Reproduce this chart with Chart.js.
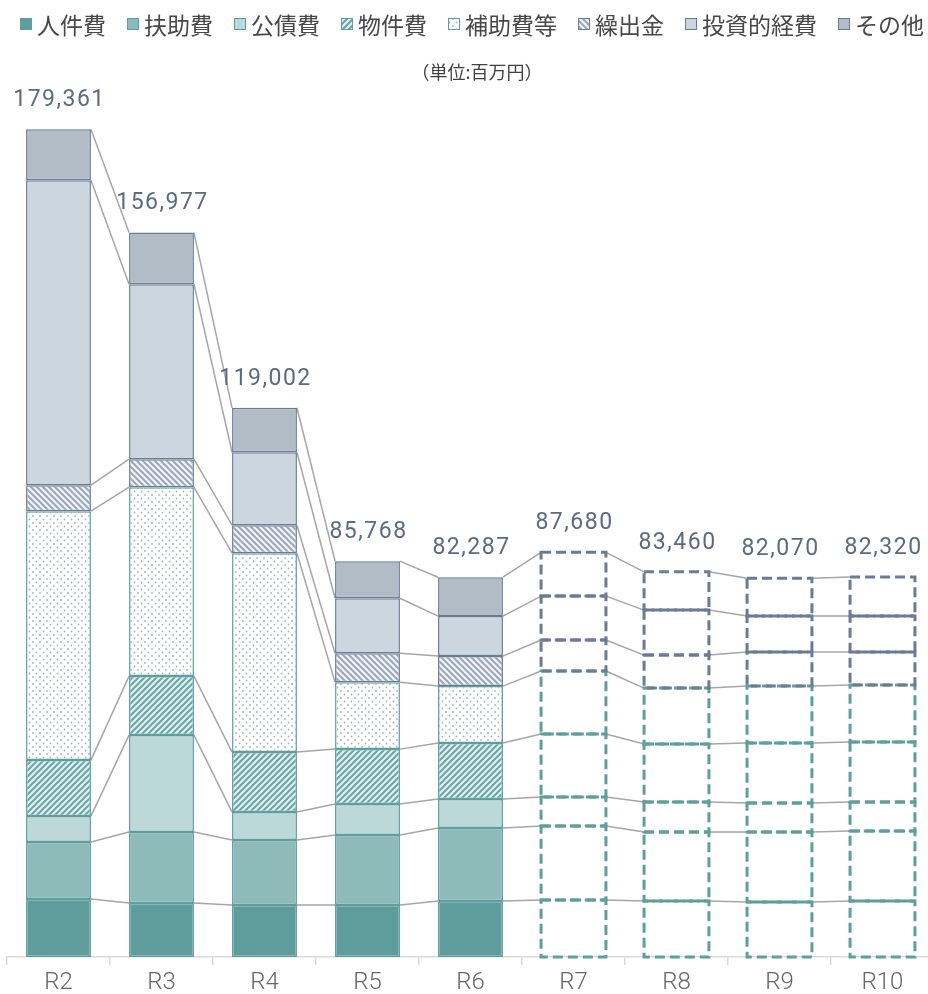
<!DOCTYPE html>
<html lang="ja">
<head>
    <meta charset="UTF-8">
    <title>歳出の推移</title>
    <script src="https://cdn.jsdelivr.net/npm/chart.js"></script>
    <style>
        html, body {
            margin: 0;
            padding: 0;
            background: #fff;
            overflow: hidden;
        }
        #chart {
            position: absolute;
            left: 0;
            top: 0;
        }
    </style>
</head>
<body>
    <canvas id="chart" width="935" height="994"></canvas>

    <script>
        // 年度 (R7 以降は計画値)
        const categories = ['R2', 'R3', 'R4', 'R5', 'R6', 'R7', 'R8', 'R9', 'R10'];
        const planStart = 5;

        // 単位: 百万円
        const jinkenhi   = [12560, 11700, 11260, 11260, 12130, 12350, 12130, 11910, 12130];
        const fujohi     = [12350, 15380, 14080, 15160, 15810, 16030, 14950, 15160, 15160];
        const kosaihi    = [5630, 21010, 6065, 6715, 6280, 6280, 6500, 6280, 6280];
        const bukkenhi   = [12130, 12780, 13000, 11910, 12130, 13650, 12560, 13000, 13000];
        const hojohi     = [53940, 40940, 43100, 14510, 12350, 13650, 12130, 12350, 12350];
        const kuridashi  = [5630, 6065, 6065, 6280, 6500, 6715, 7150, 7365, 7150];
        const toshi      = [66070, 37910, 15810, 11910, 8665, 9530, 9750, 7800, 7800];
        const sonota     = [11051, 11192, 9622, 8023, 8422, 9475, 8290, 8205, 8450];

        const seriesNames = ['人件費', '扶助費', '公債費', '物件費', '補助費等', '繰出金', '投資的経費', 'その他'];
        const seriesData = [jinkenhi, fujohi, kosaihi, bukkenhi, hojohi, kuridashi, toshi, sonota];

        const TEAL = '#5f9e9e';
        const SLATE = '#6a7c95';

        // patterns
        function hatch(bg, fg, dir) {
            const c = document.createElement('canvas');
            c.width = c.height = 6;
            const g = c.getContext('2d');
            g.fillStyle = bg;
            g.fillRect(0, 0, 6, 6);
            g.strokeStyle = fg;
            g.lineWidth = 2;
            g.beginPath();
            if (dir > 0) {
                g.moveTo(-1, 7); g.lineTo(7, -1);
                g.moveTo(-1, 1); g.lineTo(1, -1);
                g.moveTo(5, 7); g.lineTo(7, 5);
            } else {
                g.moveTo(-1, -1); g.lineTo(7, 7);
                g.moveTo(5, -1); g.lineTo(7, 1);
                g.moveTo(-1, 5); g.lineTo(1, 7);
            }
            g.stroke();
            return g.createPattern(c, 'repeat');
        }

        function dots() {
            const c = document.createElement('canvas');
            c.width = c.height = 7;
            const g = c.getContext('2d');
            g.fillStyle = '#fff';
            g.fillRect(0, 0, 7, 7);
            g.fillStyle = '#a9b2b2';
            g.beginPath();
            g.arc(1.5, 1.5, 0.9, 0, Math.PI * 2);
            g.arc(5, 5, 0.9, 0, Math.PI * 2);
            g.fill();
            return g.createPattern(c, 'repeat');
        }

        const fills = [
            '#5f9c9c',
            '#8fbaba',
            '#bcd8d8',
            hatch('#e2efef', '#6aa6a6', 1),
            dots(),
            hatch('#f1f3f6', '#9ba7b8', -1),
            '#cbd6df',
            '#b1bcc6'
        ];
        const borders = [TEAL, TEAL, TEAL, TEAL, TEAL, SLATE, SLATE, SLATE];

        const datasets = seriesNames.map((name, s) => ({
            label: name,
            data: seriesData[s],
            backgroundColor: c => (c.dataIndex >= planStart ? 'rgba(0,0,0,0)' : fills[s]),
            borderColor: borders[s],
            borderWidth: c => (c.dataIndex >= planStart ? 0 : 1.5),
            borderSkipped: false,
            barPercentage: 0.63,
            categoryPercentage: 1
        }));

        // lines between bars
        const seriesLines = {
            id: 'seriesLines',
            beforeDatasetsDraw(chart) {
                const ctx = chart.ctx;
                ctx.save();
                ctx.strokeStyle = '#a6a6a6';
                ctx.lineWidth = 1.5;
                chart.data.datasets.forEach((ds, s) => {
                    const els = chart.getDatasetMeta(s).data;
                    for (let i = 0; i < els.length - 1; i++) {
                        const a = els[i], b = els[i + 1];
                        ctx.beginPath();
                        ctx.moveTo(a.x + a.width / 2, a.y);
                        ctx.lineTo(b.x - b.width / 2, b.y);
                        ctx.stroke();
                    }
                });
                ctx.restore();
            }
        };

        // dashed boxes for plan years, totals
        const planAndTotals = {
            id: 'planAndTotals',
            afterDatasetsDraw(chart) {
                const ctx = chart.ctx;
                ctx.save();
                ctx.lineWidth = 3;
                ctx.setLineDash([10, 5]);
                chart.data.datasets.forEach((ds, s) => {
                    const els = chart.getDatasetMeta(s).data;
                    ctx.strokeStyle = borders[s];
                    for (let i = planStart; i < els.length; i++) {
                        const el = els[i];
                        ctx.strokeRect(el.x - el.width / 2, el.y, el.width, el.base - el.y);
                    }
                });
                ctx.setLineDash([]);

                const last = chart.getDatasetMeta(seriesData.length - 1).data;
                ctx.fillStyle = '#5b6b82';
                ctx.font = '23px Roboto';
                ctx.letterSpacing = '1.5px';
                ctx.textAlign = 'center';
                ctx.textBaseline = 'middle';
                categories.forEach((c, i) => {
                    const total = seriesData.reduce((sum, arr) => sum + arr[i], 0);
                    ctx.fillText(total.toLocaleString('en-US'), last[i].x + 1, last[i].y - 29);
                });
                ctx.restore();
            }
        };

        // legend + unit
        const topLegend = {
            id: 'topLegend',
            afterDraw(chart) {
                const ctx = chart.ctx;
                ctx.save();
                ctx.font = '23px "Noto Sans CJK JP"';
                ctx.textBaseline = 'middle';
                let x = 20;
                const y = 24;
                seriesNames.forEach((name, s) => {
                    ctx.fillStyle = fills[s];
                    ctx.fillRect(x, y - 6, 12, 12);
                    ctx.strokeStyle = borders[s];
                    ctx.lineWidth = 1;
                    ctx.strokeRect(x + 0.5, y - 5.5, 11, 11);
                    ctx.fillStyle = '#484848';
                    ctx.textAlign = 'left';
                    ctx.fillText(name, x + 17, y + 1);
                    x += 17 + ctx.measureText(name).width + 21;
                });
                ctx.font = '18px "Noto Sans CJK JP"';
                ctx.textAlign = 'center';
                ctx.fillStyle = '#404040';
                ctx.fillText('（単位:百万円）', 477, 72);
                ctx.restore();
            }
        };

        new Chart(document.getElementById('chart'), {
            type: 'bar',
            data: {
                labels: categories,
                datasets: datasets
            },
            options: {
                responsive: false,
                animation: false,
                layout: {
                    padding: { top: 34, left: 7, right: 1, bottom: 0 }
                },
                scales: {
                    x: {
                        stacked: true,
                        grid: {
                            offset: true,
                            drawOnChartArea: false,
                            color: '#d9d9d9',
                            lineWidth: 1.5,
                            tickLength: 8
                        },
                        border: { color: '#d9d9d9', width: 1.5 },
                        ticks: {
                            color: '#666666',
                            font: { family: 'Roboto', size: 24, weight: 300 },
                            padding: 4
                        },
                        afterFit: scale => { scale.height = 37; }
                    },
                    y: {
                        stacked: true,
                        display: false,
                        min: 0,
                        max: 200000
                    }
                },
                plugins: {
                    legend: { display: false },
                    tooltip: { enabled: false }
                }
            },
            plugins: [seriesLines, planAndTotals, topLegend]
        });
    </script>
</body>
</html>
